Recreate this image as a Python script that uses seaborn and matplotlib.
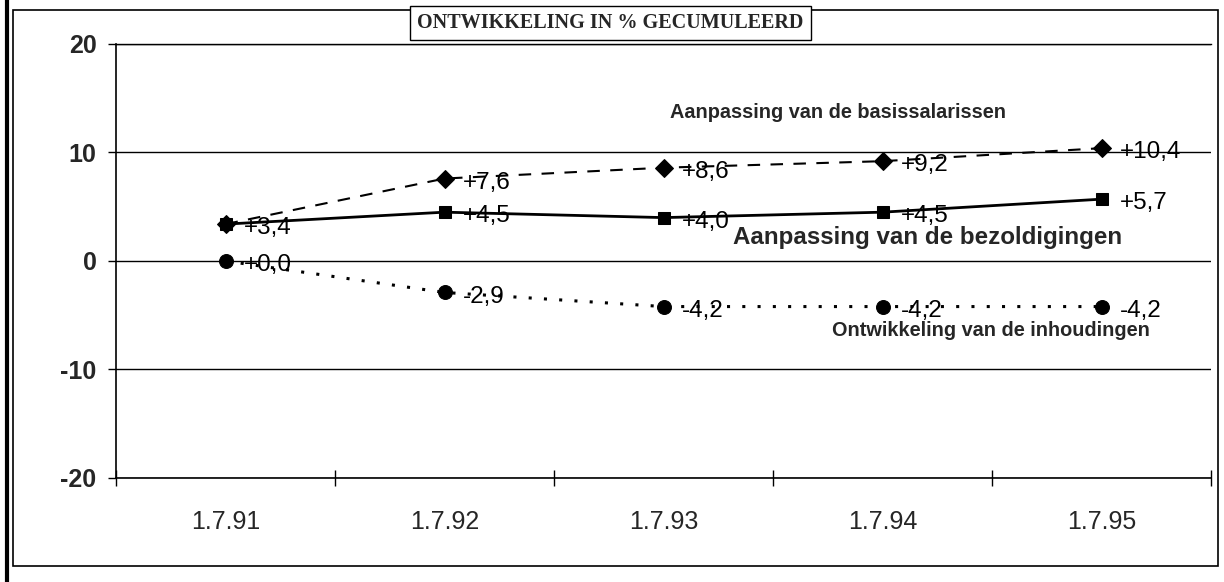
import numpy as np
import pandas as pd
import matplotlib
matplotlib.use("Agg")
import matplotlib.pyplot as plt
from matplotlib.patches import Rectangle
from matplotlib.lines import Line2D
import seaborn as sns

# values (cumulative % change)
dates = ["1.7.91", "1.7.92", "1.7.93", "1.7.94", "1.7.95"]
basissalarissen = [3.4, 7.6, 8.6, 9.2, 10.4]
bezoldigingen = [3.4, 4.5, 4.0, 4.5, 5.7]
inhoudingen = [0.0, -2.9, -4.2, -4.2, -4.2]
yticks = [-20, -10, 0, 10, 20]

names = [
    "Aanpassing van de basissalarissen",
    "Aanpassing van de bezoldigingen",
    "Ontwikkeling van de inhoudingen",
]

rows = []
for name, vals in zip(names, [basissalarissen, bezoldigingen, inhoudingen]):
    for i, (d, v) in enumerate(zip(dates, vals)):
        rows.append({"pos": i, "date": d, "serie": name, "value": v})
df = pd.DataFrame(rows)

sns.set_theme(style="white")
plt.rcParams["font.family"] = ["Liberation Sans", "DejaVu Sans"]

fig = plt.figure(figsize=(12.24, 5.82), dpi=100)
ax = fig.add_axes([0.0948, 0.1787, 0.8946, 0.7457])

styles = {
    names[0]: dict(linestyle=(0, (6, 5)), linewidth=1.5, marker="D", markersize=9),
    names[1]: dict(linestyle="-", linewidth=2.0, marker="s", markersize=9),
    names[2]: dict(linestyle=(0, (1, 4)), linewidth=2.2, marker="o", markersize=10),
}

for name in names:
    sub = df[df["serie"] == name]
    sns.lineplot(data=sub, x="pos", y="value", ax=ax, color="black",
                 markeredgecolor="black", zorder=3, **styles[name])

# value labels next to each point (the shared first point is labelled once)
seen = set()
for name in names:
    sub = df[df["serie"] == name]
    for _, r in sub.iterrows():
        key = (r["pos"], r["value"])
        if key in seen:
            continue
        seen.add(key)
        lab = f"{r['value']:+.1f}".replace(".", ",")
        ax.annotate(lab, (r["pos"], r["value"]), xytext=(13, -3),
                    textcoords="offset points", ha="left", va="center",
                    fontsize=17.5, color="black", zorder=4)

# series names written inside the plot
ax.text(2.03, 13.7, names[0], fontsize=14.3, fontweight="bold", ha="left", va="center")
ax.text(2.317, 2.2, names[1], fontsize=17.4, fontweight="bold", ha="left", va="center")
ax.text(2.77, -6.45, names[2], fontsize=14.3, fontweight="bold", ha="left", va="center")

ax.set_xlim(-0.5, len(dates) - 0.5)
ax.set_ylim(-20, 20)
ax.set_yticks(yticks)
ax.set_yticklabels([str(t) for t in yticks], fontsize=18, fontweight="bold")
ax.set_xticks(range(len(dates)))
ax.set_xticklabels(dates, fontsize=18)
ax.set_xticks(np.arange(-0.5, len(dates)), minor=True)
ax.tick_params(axis="x", which="major", length=0, pad=23)
ax.tick_params(axis="x", which="minor", length=11, width=1, direction="inout",
               bottom=True, color="black")
ax.tick_params(axis="y", which="major", length=6, width=1, direction="out",
               left=True, color="black", pad=8)
ax.grid(axis="y", color="black", linewidth=1)
ax.set_axisbelow(True)
ax.set_xlabel("")
ax.set_ylabel("")
for side in ["left", "bottom", "top"]:
    ax.spines[side].set_visible(True)
    ax.spines[side].set_color("black")
    ax.spines[side].set_linewidth(1.2)
ax.spines["right"].set_visible(False)
ax.spines["top"].set_linewidth(1)

# outer frame and scanned page edge
fig.add_artist(Rectangle((0.0106, 0.0275), 0.9845, 0.9553, transform=fig.transFigure,
                         fill=False, edgecolor="black", linewidth=1.2, zorder=0))
fig.add_artist(Line2D([0.0057, 0.0057], [0, 1], transform=fig.transFigure,
                      color="black", linewidth=3))

fig.text(0.4988, 0.9605, "ONTWIKKELING IN % GECUMULEERD", ha="center", va="center",
         fontsize=14.5, fontweight="bold", family=["Liberation Serif", "DejaVu Serif"],
         bbox=dict(boxstyle="square,pad=0.35", facecolor="white", edgecolor="black",
                   linewidth=1))

fig.savefig("out.png", dpi=100)
